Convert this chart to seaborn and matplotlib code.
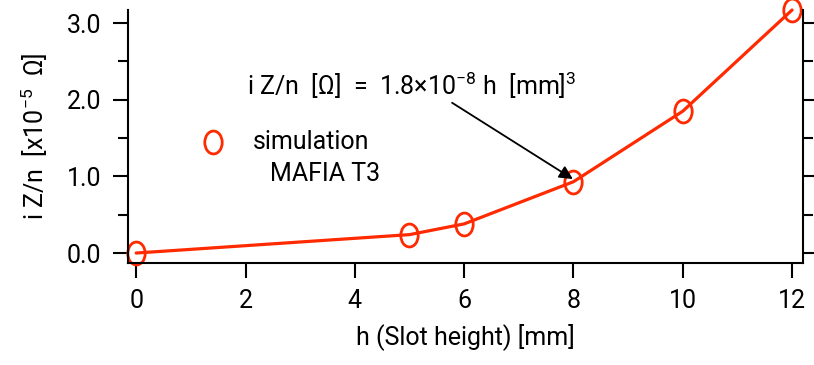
import matplotlib
matplotlib.use("Agg")
import matplotlib.pyplot as plt
import seaborn as sns
import pandas as pd
from matplotlib.path import Path
from matplotlib.ticker import MultipleLocator

slot_height = [0, 5, 6, 8, 10, 12]
impedance = [0.0, 0.24, 0.38, 0.93, 1.85, 3.17]

sns.set_theme(style="ticks")
plt.rcParams["font.family"] = ["Roboto", "DejaVu Sans"]
plt.rcParams["mathtext.fontset"] = "custom"
plt.rcParams["mathtext.rm"] = "Roboto"
plt.rcParams["mathtext.default"] = "regular"
for key in ["text.color", "axes.labelcolor", "xtick.color", "ytick.color"]:
    plt.rcParams[key] = "black"

df = pd.DataFrame({"h": slot_height, "z": impedance})
red = "#ff2a00"
fs = 18

# slightly tall open ellipse used as the point marker
circ = Path.unit_circle()
ellipse = Path(circ.vertices * [0.76, 1.0], circ.codes)

fig = plt.figure(figsize=(8.14, 3.65), dpi=100)
ax = fig.add_axes([128 / 814, 1 - 263 / 365, 675 / 814, 253 / 365])

sns.lineplot(data=df, x="h", y="z", ax=ax, color=red, linewidth=2.3,
             marker=ellipse, markersize=16.5, markerfacecolor="none",
             markeredgecolor=red, markeredgewidth=2.0, clip_on=False)

ax.set_xlim(-0.15, 12.2)
ax.set_ylim(-0.13, 3.17)
ax.xaxis.set_major_locator(MultipleLocator(2))
ax.set_yticks([0, 1, 2, 3])
ax.set_yticklabels(["0.0", "1.0", "2.0", "3.0"])
ax.yaxis.set_minor_locator(MultipleLocator(0.5))

ax.spines["top"].set_visible(False)
for s in ["left", "right", "bottom"]:
    ax.spines[s].set_linewidth(1.5)
    ax.spines[s].set_color("black")
ax.tick_params(axis="both", which="major", length=11, width=1.5,
               labelsize=fs, direction="out")
ax.tick_params(axis="y", which="minor", length=7, width=1.5, direction="out")
ax.tick_params(axis="y", which="both", right=True, labelright=False)
ax.tick_params(axis="x", pad=8)
ax.tick_params(axis="y", pad=8)

ax.set_xlabel("h (Slot height) [mm]", fontsize=fs, labelpad=7)
ax.set_ylabel(r"i Z/n  [x10$^{-5}$  Ω]", fontsize=fs, labelpad=12)

# key for the simulated points
ax.plot([1.41], [1.45], marker=ellipse, markersize=16.5, markerfacecolor="none",
        markeredgecolor=red, markeredgewidth=2.0, linestyle="none")
ax.text(2.14, 1.45, "simulation", fontsize=fs, va="center", ha="left")
ax.text(2.45, 1.03, "MAFIA T3", fontsize=fs, va="center", ha="left")

ax.text(2.03, 2.06, r"i Z/n  [Ω]  =  1.8×10$^{-8}$ h  [mm]$^3$",
        fontsize=fs, ha="left", va="baseline")
ax.annotate("", xy=(7.99, 0.965), xytext=(5.78, 1.96),
            arrowprops=dict(arrowstyle="-|>", color="black", lw=1.3,
                            shrinkA=0, shrinkB=0, mutation_scale=20))

fig.savefig("out.png", dpi=100)
